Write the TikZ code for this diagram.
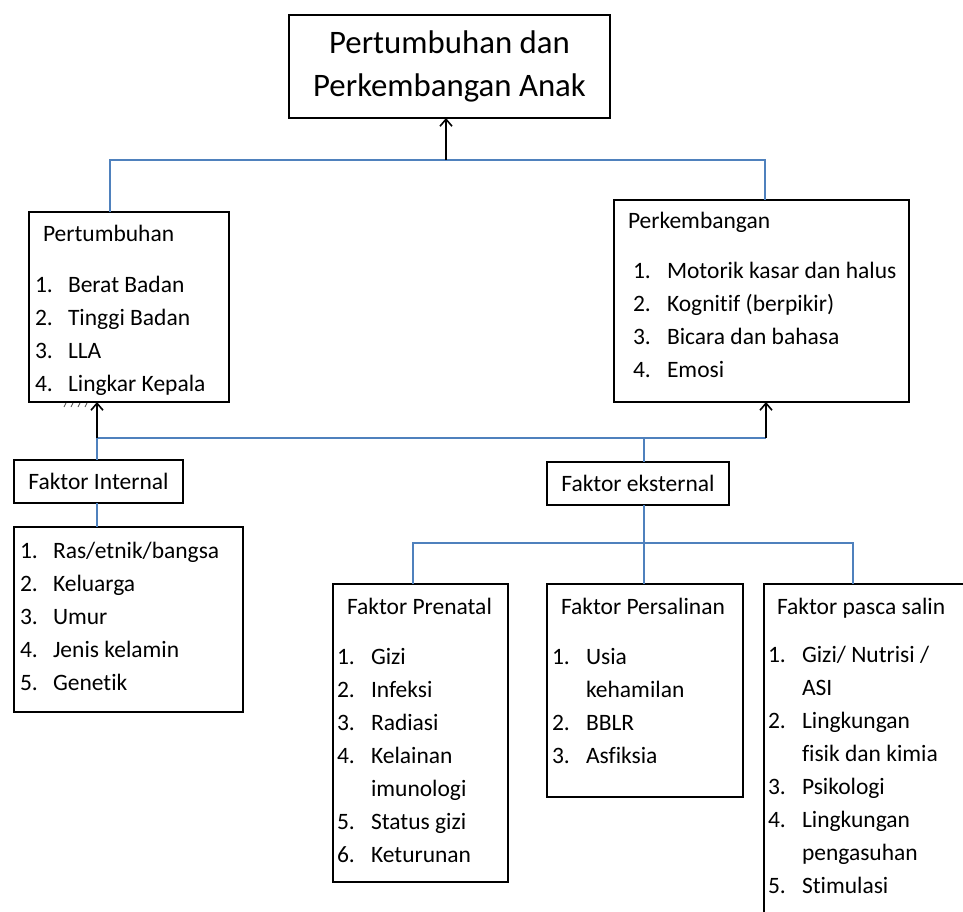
\documentclass[tikz,border=0pt]{standalone}
\usepackage{fontspec}
\setmainfont[Ligatures=NoCommon]{Carlito}
\usetikzlibrary{calc,arrows.meta}
\definecolor{lineblue}{RGB}{79,129,189}
\begin{document}
\begin{tikzpicture}[x=1pt,y=-1pt,
  box/.style={draw=black, line width=1.5pt, inner sep=0pt, outer sep=0pt, anchor=north west, font=\fontsize{23.5}{28}\selectfont},
  txt/.style={anchor=base west, inner sep=0pt, outer sep=0pt, font=\fontsize{23.5}{28}\selectfont},
  conn/.style={draw=lineblue, line width=1.8pt},
  arr/.style={draw=black, line width=1.8pt, -{Straight Barb[length=7pt,width=12pt,line width=1.6pt]}}]
\useasboundingbox (0,0) rectangle (963,911);
\clip (0,0) rectangle (963,911);
% boxes
\node[box, anchor=center, minimum width=321pt, minimum height=103pt, align=center,
      font=\fontsize{32.8}{43}\selectfont] (title) at (449.5,66.5) {Pertumbuhan dan\\Perkembangan Anak};
\node[box, minimum width=200pt, minimum height=190pt] (pert) at (29,212) {};
\node[box, minimum width=295pt, minimum height=202pt] (perk) at (614,200) {};
\node[box, minimum width=169pt, minimum height=43pt] (fi) at (14,460) {Faktor Internal};
\node[box, minimum width=229pt, minimum height=185pt] (ilist) at (14,527) {};
\node[box, minimum width=182pt, minimum height=43pt] (fe) at (547,462) {Faktor eksternal};
\node[box, minimum width=175pt, minimum height=298pt] (pren) at (333,584) {};
\node[box, minimum width=196pt, minimum height=213pt] (pers) at (547,584) {};
\node[box, minimum width=260pt, minimum height=400pt] (pasc) at (764,584) {};
% connectors
\coordinate (j1) at (446,160);
\draw[conn] ($(pert.north west)+(81,0)$) |- (j1) -| ($(perk.north west)+(151,0)$);
\draw[arr] (j1) -- (j1 |- title.south);
\coordinate (j2) at (97,438);
\coordinate (j3) at (766,438);
\coordinate (j4) at (644,438);
\draw[conn] (j2) -- (j3);
\draw[conn] (j2) -- (j2 |- fi.north);
\draw[conn] (j2 |- fi.south) -- (j2 |- ilist.north);
\draw[conn] (j4) -- (j4 |- fe.north);
\draw[conn] (j4 |- fe.south) -- (j4 |- pers.north);
\coordinate (j5) at (413,543);
\coordinate (j6) at (853,543);
\draw[conn] (j5 |- pren.north) -- (j5) -- (j6) -- (j6 |- pasc.north);
\draw[arr] (j2) -- (j2 |- pert.south);
\draw[arr] (j3) -- (j3 |- perk.south);
% tiny marks under Pertumbuhan box
\foreach \i in {0,...,3} \draw[black!70, line width=0.7pt] ({64+7*\i},407) -- ({66+7*\i},403);
% Pertumbuhan
\node[txt] (pert-h) at (43,241.5) {Pertumbuhan};
\foreach \t [count=\i] in {Berat Badan, Tinggi Badan, LLA, Lingkar Kepala} {
  \node[txt] (pert-n\i) at (35,{292.5+33*(\i-1)}) {\i.};
  \node[txt] (pert-t\i) at (68,{292.5+33*(\i-1)}) {\t};
}
% Perkembangan
\node[txt] (perk-h) at (628,228.5) {Perkembangan};
\foreach \t [count=\i] in {Motorik kasar dan halus, Kognitif (berpikir), Bicara dan bahasa, Emosi} {
  \node[txt] (perk-n\i) at (633,{278.5+33*(\i-1)}) {\i.};
  \node[txt] (perk-t\i) at (667,{278.5+33*(\i-1)}) {\t};
}
% Internal list
\node[txt] (il-n1) at (20,558.5) {1.};
\node[txt] (il-t1) at (53,558.5) {Ras/etnik/bangsa};
\foreach \t [count=\i from 2] in {Keluarga, Umur, Jenis kelamin, Genetik} {
  \node[txt] (il-n\i) at (20,{558.5+33*(\i-1)}) {\i.};
  \node[txt] (il-t\i) at (53,{558.5+33*(\i-1)}) {\t};
}
% Prenatal
\node[txt] (pren-h) at (347,614.5) {Faktor Prenatal};
\foreach \n/\k in {1/0,2/1,3/2,4/3,5/5,6/6}
  \node[txt] (pren-n\n) at (337,{664.5+33*\k}) {\n.};
\foreach \t/\k [count=\i] in {Gizi/0, Infeksi/1, Radiasi/2, Kelainan/3, imunologi/4, Status gizi/5, Keturunan/6}
  \node[txt] (pren-t\i) at (371,{664.5+33*\k}) {\t};
% Persalinan
\node[txt] (pers-h) at (561,614.5) {Faktor Persalinan};
\foreach \n/\k in {1/0,2/2,3/3}
  \node[txt] (pers-n\n) at (552,{664.5+33*\k}) {\n.};
\foreach \t/\k [count=\i] in {Usia/0, kehamilan/1, BBLR/2, Asfiksia/3}
  \node[txt] (pers-t\i) at (586,{664.5+33*\k}) {\t};
% Pasca salin
\node[txt] (pasc-h) at (777,614.5) {Faktor pasca salin};
\foreach \n/\k in {1/0,2/2,3/4,4/5,5/7}
  \node[txt] (pasc-n\n) at (768,{662.5+33*\k}) {\n.};
\node[txt] (pasc-t1) at (802,662.5) {Gizi/ Nutrisi /};
\foreach \t/\k [count=\i from 2] in {ASI/1, Lingkungan/2, fisik dan kimia/3, Psikologi/4, Lingkungan/5, pengasuhan/6, Stimulasi/7}
  \node[txt] (pasc-t\i) at (802,{662.5+33*\k}) {\t};
\end{tikzpicture}
\end{document}
